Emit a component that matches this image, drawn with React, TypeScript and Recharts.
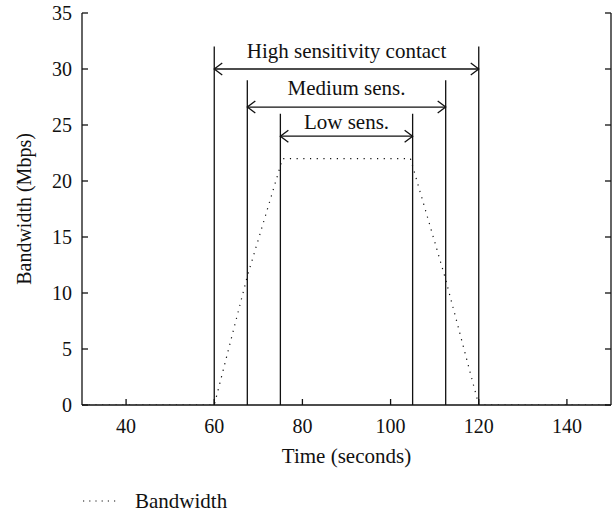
import React from "react";
import {
  LineChart,
  Line,
  XAxis,
  YAxis,
  ReferenceLine,
  ReferenceDot,
  Legend,
  Label,
} from "recharts";

const times = [30, 60, 67.5, 75.5, 104.5, 112.5, 120, 150];
const bandwidth = [0, 0, 11.5, 22, 22, 11.2, 0, 0];

const xTicks = [40, 60, 80, 100, 120, 140];
const yTicks = [0, 5, 10, 15, 20, 25, 30, 35];

const boundaryTimes = [60, 67.5, 75, 105, 112.5, 120];
const boundaryTops = [32, 29, 26, 26, 29, 32];

const spanFrom = [60, 67.5, 75];
const spanTo = [120, 112.5, 105];
const spanY = [30, 26.6, 24];
const spanLabels = ["High sensitivity contact", "Medium sens.", "Low sens."];
const spanLabelY = [31.0, 27.7, 24.6];

const data = times.map((t, i) => ({ t, bw: bandwidth[i] }));

const FONT = "'Liberation Serif', 'DejaVu Serif', serif";
const INK = "#111";

const BottomTick = (props: any) => {
  const { x, y, payload } = props;
  return (
    <g>
      <line x1={x} x2={x} y1={y} y2={y - 6} stroke={INK} strokeWidth={1.3} />
      <text x={x} y={y + 28} textAnchor="middle" fontFamily={FONT} fontSize={20} fill={INK}>
        {payload.value}
      </text>
    </g>
  );
};

const TopTick = (props: any) => {
  const { x, y } = props;
  return <line x1={x} x2={x} y1={y} y2={y + 6} stroke={INK} strokeWidth={1.3} />;
};

const LeftTick = (props: any) => {
  const { x, y, payload } = props;
  return (
    <g>
      <line x1={x} x2={x + 6} y1={y} y2={y} stroke={INK} strokeWidth={1.3} />
      <text x={x - 10} y={y + 6.7} textAnchor="end" fontFamily={FONT} fontSize={20} fill={INK}>
        {payload.value}
      </text>
    </g>
  );
};

const RightTick = (props: any) => {
  const { x, y } = props;
  return <line x1={x} x2={x - 6} y1={y} y2={y} stroke={INK} strokeWidth={1.3} />;
};

const ArrowShape = (props: any) => {
  const { x1, y1, x2, y2 } = props;
  const L = 8;
  const H = 6;
  return (
    <g fill="none" stroke={INK} strokeWidth={1.3}>
      <line x1={x1} y1={y1} x2={x2} y2={y2} />
      <polyline points={`${x1 + L},${y1 - H} ${x1},${y1} ${x1 + L},${y1 + H}`} />
      <polyline points={`${x2 - L},${y2 - H} ${x2},${y2} ${x2 - L},${y2 + H}`} />
    </g>
  );
};

const makeTextShape = (txt: string) => (props: any) => {
  const { cx, cy } = props;
  return (
    <text x={cx} y={cy} textAnchor="middle" fontFamily={FONT} fontSize={21} fill={INK}>
      {txt}
    </text>
  );
};

const LegendContent = () => (
  <div style={{ height: 39, width: 615, position: "relative" }}>
    <svg width={615} height={39} style={{ display: "block" }}>
      <line
        x1={83}
        x2={119}
        y1={26}
        y2={26}
        stroke={INK}
        strokeWidth={1.2}
        strokeDasharray="1.2 5"
      />
      <text x={135} y={33} fontFamily={FONT} fontSize={21} fill={INK}>
        Bandwidth
      </text>
    </svg>
  </div>
);

export default function App() {
  return (
    <div style={{ position: "absolute", left: 0, top: 0, background: "#fff" }}>
      <LineChart
        width={615}
        height={514}
        data={data}
        margin={{ top: 13, right: 0, bottom: 0, left: 0 }}
      >
        <XAxis
          dataKey="t"
          type="number"
          domain={[30, 150]}
          ticks={xTicks}
          allowDataOverflow
          axisLine={{ stroke: INK, strokeWidth: 1.3 }}
          tickLine={false}
          tickSize={0}
          tickMargin={0}
          tick={<BottomTick />}
          height={70}
          interval={0}
        >
          <Label
            content={(p: any) => {
              const vb = p.viewBox;
              return (
                <text
                  x={vb.x + vb.width / 2}
                  y={vb.y + 57.5}
                  textAnchor="middle"
                  fontFamily={FONT}
                  fontSize={21}
                  fill={INK}
                >
                  Time (seconds)
                </text>
              );
            }}
          />
        </XAxis>
        <XAxis
          xAxisId="top"
          dataKey="t"
          type="number"
          orientation="top"
          domain={[30, 150]}
          ticks={xTicks}
          allowDataOverflow
          axisLine={{ stroke: INK, strokeWidth: 1.3 }}
          tickLine={false}
          tickSize={0}
          tickMargin={0}
          tick={<TopTick />}
          height={0}
          interval={0}
        />
        <YAxis
          type="number"
          domain={[0, 35]}
          ticks={yTicks}
          allowDataOverflow
          axisLine={{ stroke: INK, strokeWidth: 1.3 }}
          tickLine={false}
          tickSize={0}
          tickMargin={0}
          tick={<LeftTick />}
          width={82}
          interval={0}
        >
          <Label
            content={(p: any) => {
              const vb = p.viewBox;
              const cy = vb.y + vb.height / 2;
              return (
                <text
                  x={31}
                  y={cy}
                  transform={`rotate(-90, 31, ${cy})`}
                  textAnchor="middle"
                  fontFamily={FONT}
                  fontSize={20}
                  fill={INK}
                >
                  Bandwidth (Mbps)
                </text>
              );
            }}
          />
        </YAxis>
        <YAxis
          yAxisId="right"
          type="number"
          orientation="right"
          domain={[0, 35]}
          ticks={yTicks}
          allowDataOverflow
          axisLine={{ stroke: INK, strokeWidth: 1.3 }}
          tickLine={false}
          tickSize={0}
          tickMargin={0}
          tick={<RightTick />}
          width={4}
          interval={0}
        />
        {boundaryTimes.map((bt, i) => (
          <ReferenceLine
            key={`b${i}`}
            segment={[
              { x: bt, y: 0 },
              { x: bt, y: boundaryTops[i] },
            ]}
            stroke={INK}
            strokeWidth={1.3}
            ifOverflow="extendDomain"
          />
        ))}
        {spanFrom.map((f, i) => (
          <ReferenceLine
            key={`a${i}`}
            segment={[
              { x: f, y: spanY[i] },
              { x: spanTo[i], y: spanY[i] },
            ]}
            shape={ArrowShape}
          />
        ))}
        {spanFrom.map((f, i) => (
          <ReferenceDot
            key={`l${i}`}
            x={(f + spanTo[i]) / 2}
            y={spanLabelY[i]}
            r={0}
            shape={makeTextShape(spanLabels[i])}
          />
        ))}
        <Line
          type="linear"
          dataKey="bw"
          name="Bandwidth"
          stroke={INK}
          strokeWidth={1.2}
          strokeDasharray="1.2 5.5"
          dot={false}
          activeDot={false}
          isAnimationActive={false}
        />
        <Legend
          verticalAlign="bottom"
          align="left"
          content={<LegendContent />}
          wrapperStyle={{ height: 39 }}
        />
      </LineChart>
    </div>
  );
}
